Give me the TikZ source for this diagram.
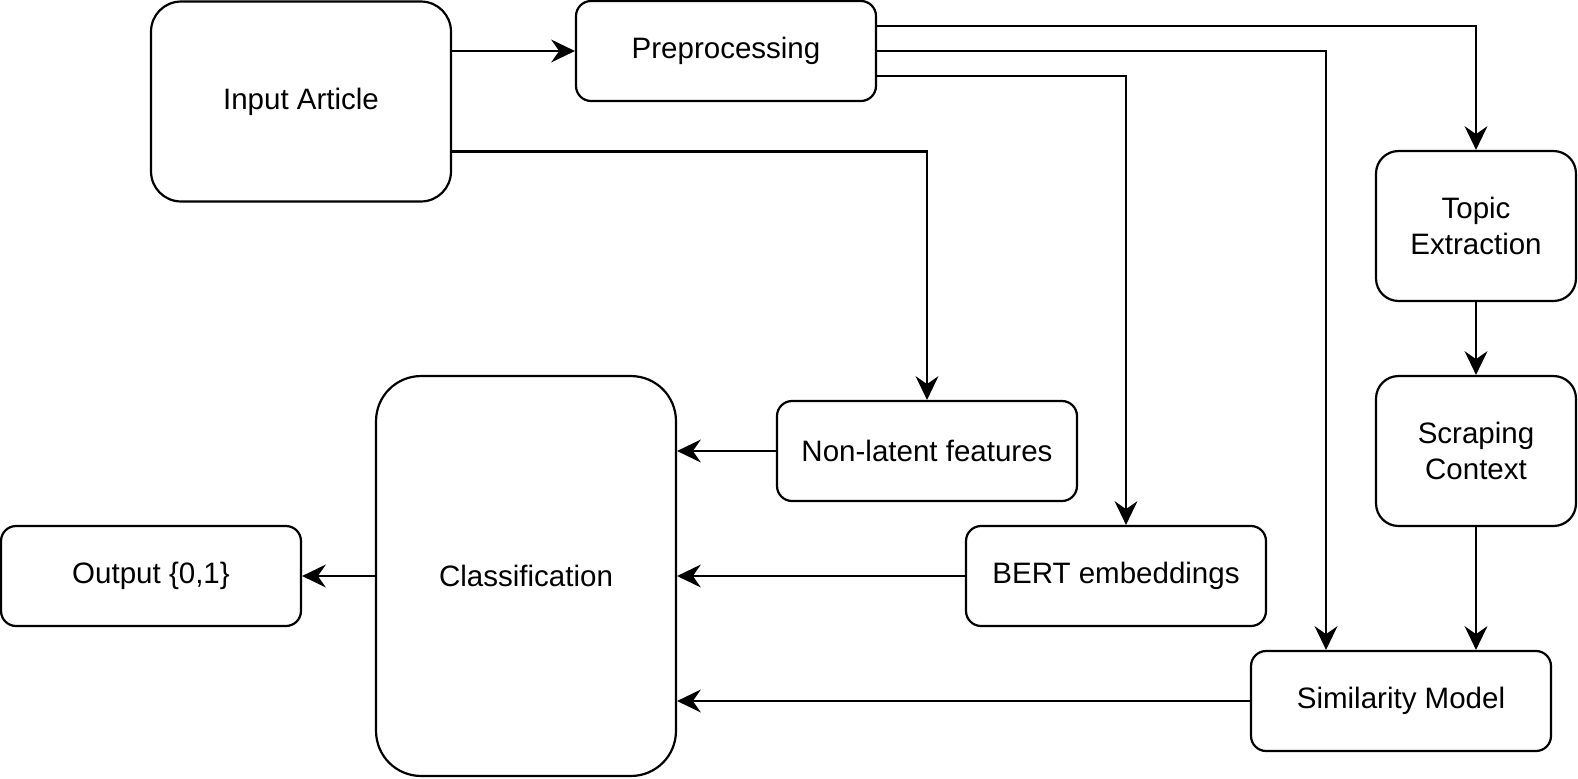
\documentclass[tikz,border=0pt]{standalone}
\usepackage{fontspec}
\setmainfont{Liberation Sans}
\usetikzlibrary{arrows.meta}

\tikzset{
  box/.style={draw, line width=1.25pt, rounded corners=#1, align=center, inner sep=0pt,
    font=\fontsize{16.8}{20.5}\selectfont},
  flow/.style={line width=1.25pt, -{Stealth[length=13.5pt, width=13pt, inset=4.5pt]}}
}

\begin{document}
\begin{tikzpicture}[x=0.02cm, y=-0.02cm]

  \useasboundingbox (0, 0) rectangle (1578, 778);

  \node[box=0.6cm, minimum width=6cm, minimum height=4cm] (input) at (301, 101.5) {Input Article};
  \node[box=0.3cm, minimum width=6cm, minimum height=2cm] (pre) at (726, 51) {Preprocessing};
  \node[box=0.45cm, minimum width=4cm, minimum height=3cm] (topic) at (1476, 226) {Topic\\Extraction};
  \node[box=0.45cm, minimum width=4cm, minimum height=3cm] (scrape) at (1476, 451) {Scraping\\Context};
  \node[box=0.3cm, minimum width=6cm, minimum height=2cm] (nonlat) at (927, 451) {Non-latent features};
  \node[box=0.3cm, minimum width=6cm, minimum height=2cm] (bert) at (1116, 576) {BERT embeddings};
  \node[box=0.3cm, minimum width=6cm, minimum height=2cm] (sim) at (1401, 701) {Similarity Model};
  \node[box=0.9cm, minimum width=6cm, minimum height=8cm] (cls) at (526, 576) {Classification};
  \node[box=0.3cm, minimum width=6cm, minimum height=2cm] (out) at (151, 576) {Output \{0,1\}};

  \draw[flow] (input.east |- pre.west) -- (pre.west);
  \draw[flow] ([yshift=-1cm]input.east) -| (nonlat.north);
  \draw[flow] ([yshift=0.5cm]pre.east) -| (topic.north);
  \draw[flow] (pre.east) -| ([xshift=-1.5cm]sim.north);
  \draw[flow] ([yshift=-0.5cm]pre.east) -| ([xshift=0.2cm]bert.north);
  \draw[flow] (topic) -- (scrape);
  \draw[flow] (scrape.south) -- (scrape.south |- sim.north);

  \foreach \src in {nonlat, bert, sim} {
    \draw[flow] (\src.west) -- (cls.east |- \src.west);
  }
  \draw[flow] (cls.west) -- (out.east);

\end{tikzpicture}
\end{document}
